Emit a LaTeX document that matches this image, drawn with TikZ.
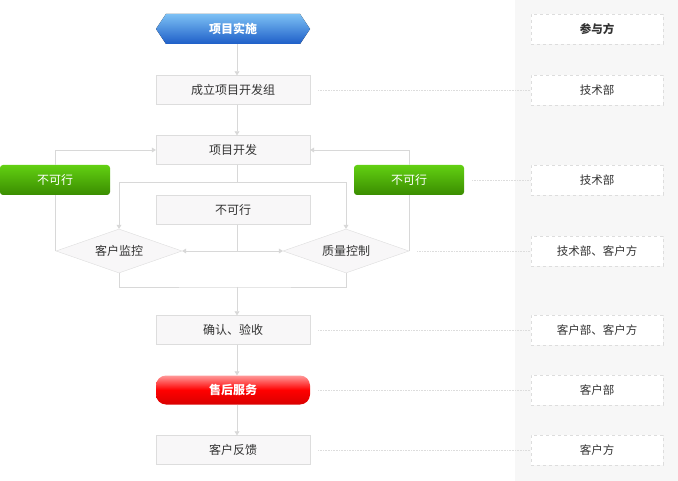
\documentclass[tikz,border=0pt]{standalone}
\usepackage{fontspec}
\setmainfont{Noto Sans CJK SC}
\usetikzlibrary{shapes.geometric,arrows.meta}
\definecolor{ln}{HTML}{D8D8D8}
\definecolor{bx}{HTML}{F8F7F8}
\definecolor{bd}{HTML}{DDDDDD}
\definecolor{gt}{HTML}{62D012}
\definecolor{gb}{HTML}{3A8C00}
\definecolor{bt}{HTML}{7CC0F4}
\definecolor{bb}{HTML}{1E5EC8}
\begin{document}
\begin{tikzpicture}[x=1pt,y=-1pt,
  box/.style={draw=bd,fill=bx,minimum width=154pt,minimum height=29pt,inner sep=0pt,font=\fontsize{12}{14}\selectfont,text=black!80},
  dia/.style={diamond,draw=bd,fill=bx,aspect=2.86,minimum width=126pt,minimum height=44pt,inner sep=0pt,font=\fontsize{12}{14}\selectfont,text=black!80},
  rbox/.style={draw=bd,dashed,fill=white,minimum width=132pt,minimum height=30pt,inner sep=0pt,font=\fontsize{11.5}{14}\selectfont,text=black!80},
  grn/.style={rounded corners=3pt,top color=gt,bottom color=gb,minimum width=110pt,minimum height=30pt,inner sep=0pt,text=white,font=\fontsize{12}{14}\selectfont},
  con/.style={draw=ln,line width=0.8pt},
  arr/.style={con,-{Triangle[width=5pt,length=4pt]}},
  dot/.style={draw=bd,densely dotted,line width=0.6pt}]
\useasboundingbox (0,0) rectangle (678,481);
\fill[black!3] (515,0) rectangle (678,481);
% right column
\node[rbox,font=\bfseries\fontsize{11.5}{14}\selectfont] (r0) at (597,29) {参与方};
\node[rbox] (r1) at (597,90) {技术部};
\node[rbox] (r2) at (597,180) {技术部};
\node[rbox] (r3) at (597,251) {技术部、客户方};
\node[rbox] (r4) at (597,330) {客户部、客户方};
\node[rbox] (r5) at (597,390) {客户部};
\node[rbox] (r6) at (597,450) {客户方};
% main
\fill[top color=bt,bottom color=bb]
  (156,29) -- (166,14) -- (300,14) -- (310,29) -- (300,44) -- (166,44) -- cycle;
\node[minimum width=154pt,minimum height=30pt,inner sep=0pt,text=white,font=\bfseries\fontsize{12}{14}\selectfont] (h) at (233,29) {项目实施};
\node[box] (b1) at (233,90) {成立项目开发组};
\node[box] (b2) at (233,150) {项目开发};
\node[grn] (gl) at (55,180) {不可行};
\node[grn] (gr) at (409,180) {不可行};
\node[box] (b3) at (233,210) {不可行};
\node[dia] (dl) at (119,251) {客户监控};
\node[dia] (dr) at (346,251) {质量控制};
\node[box] (b4) at (233,330) {确认、验收};
\node[rounded corners=10pt,top color=red!40!white,bottom color=red!85!black,middle color=red,minimum width=154pt,minimum height=29pt,inner sep=0pt,text=white,font=\bfseries\fontsize{12}{14}\selectfont] (b5) at (233,390) {售后服务};
\node[box] (b6) at (233,450) {客户反馈};
\coordinate (jn) at (237,287);
% connectors
\draw[arr] (h.south -| 237,0) -- (b1.north -| 237,0);
\draw[arr] (b1.south -| 237,0) -- (b2.north -| 237,0);
\draw[con] (b2.south -| 237,0) -- (237,182);
\draw[arr] (237,182) -| (dl.north);
\draw[arr] (237,182) -| (dr.north);
\draw[con] (b3.south -| 237,0) -- (237,251);
\draw[arr] (237,251) -- (dl.east);
\draw[arr] (237,251) -- (dr.west);
\draw[con] (dl.west) |- (gl.south);
\draw[arr] (gl.north) |- (b2.west);
\draw[con] (dr.east) |- (gr.south);
\draw[arr] (gr.north) |- (b2.east);
\draw[con] (dl.south) |- (jn) -| (dr.south);
\draw[arr] (jn) -- (b4.north -| 237,0);
\draw[arr] (b4.south -| 237,0) -- (b5.north -| 237,0);
\draw[arr] (b5.south -| 237,0) -- (b6.north -| 237,0);
% dotted
\draw[dot] (b1.east) ++(8,0) -- (r1.west);
\draw[dot] (gr.east) ++(8,0) -- (r2.west);
\draw[dot] (dr.east) ++(8,0) -- (r3.west);
\draw[dot] (b4.east) ++(8,0) -- (r4.west);
\draw[dot] (b5.east) ++(8,0) -- (r5.west);
\draw[dot] (b6.east) ++(8,0) -- (r6.west);
\end{tikzpicture}
\end{document}
